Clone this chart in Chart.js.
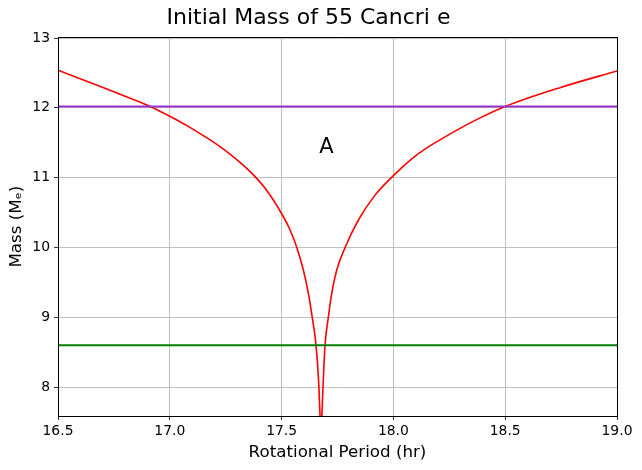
<!DOCTYPE html>
<html>
<head>
<meta charset="utf-8">
<script src="https://cdn.jsdelivr.net/npm/chart.js@4/dist/chart.umd.min.js"></script>
<style>
html,body{margin:0;padding:0;background:#fff;}
#wrap{width:642px;height:470px;position:relative;}
</style>
</head>
<body>
<div id="wrap"><canvas id="c" width="642" height="470"></canvas></div>
<script>
// Rotational period (hr) and initial mass
const periods = [16.50, 16.71, 16.92, 17.00, 17.09, 17.24, 17.314, 17.374, 17.433, 17.499, 17.538, 17.568, 17.597, 17.620, 17.636, 17.654, 17.666, 17.672, 17.676, 17.680, 17.686, 17.694, 17.709, 17.724, 17.746, 17.784, 17.843, 17.918, 18.00, 18.082, 18.141, 18.25, 18.39, 18.50, 18.745, 19.00];
const masses  = [12.54, 12.28, 12.01, 11.88, 11.72, 11.41, 11.22, 11.04, 10.82, 10.49, 10.25, 10.00, 9.68, 9.34, 9.02, 8.60, 8.06, 7.58, 7.20, 7.58, 8.06, 8.59, 9.00, 9.34, 9.67, 10.00, 10.39, 10.75, 11.03, 11.27, 11.41, 11.62, 11.86, 12.02, 12.29, 12.53];
const upperLimit = 12.02;   // purple horizontal line
const lowerLimit = 8.60;    // green horizontal line
const xRange = [16.5, 19.0];
const yRange = [7.585, 13.01];
const xTicks = [16.5, 17.0, 17.5, 18.0, 18.5, 19.0];
const yTicks = [8, 9, 10, 11, 12, 13];
const annotation = {x: 17.70, y: 11.43, text: 'A'};

const font = "'DejaVu Sans', 'Liberation Sans', sans-serif";

const curve = periods.map((p, i) => ({x: p, y: masses[i]}));

const boxPlugin = {
  id: 'box',
  afterDraw(chart) {
    const {ctx, chartArea: a, scales} = chart;
    ctx.save();
    ctx.strokeStyle = '#000';
    ctx.lineWidth = 1;
    ctx.strokeRect(Math.round(a.left) + 0.5, Math.round(a.top) + 0.5, Math.round(a.right - a.left), Math.round(a.bottom - a.top));
    ctx.fillStyle = '#000';
    ctx.font = '21px ' + font;
    ctx.textAlign = 'center';
    ctx.textBaseline = 'middle';
    ctx.fillText(annotation.text, scales.x.getPixelForValue(annotation.x), scales.y.getPixelForValue(annotation.y));
    ctx.restore();
  }
};

new Chart(document.getElementById('c'), {
  type: 'line',
  data: {
    datasets: [
      {data: [{x: xRange[0], y: upperLimit}, {x: xRange[1], y: upperLimit}], borderColor: '#9932CC', borderWidth: 2, pointRadius: 0, order: 1},
      {data: [{x: xRange[0], y: lowerLimit}, {x: xRange[1], y: lowerLimit}], borderColor: '#008000', borderWidth: 2, pointRadius: 0, order: 1},
      {data: curve, borderColor: '#ff0000', borderWidth: 1.6, pointRadius: 0, cubicInterpolationMode: 'monotone', order: 2}
    ]
  },
  options: {
    responsive: false,
    animation: false,
    devicePixelRatio: 1,
    layout: {padding: {left: 0, right: 25, top: 0, bottom: 0}},
    plugins: {
      legend: {display: false},
      tooltip: {enabled: false},
      title: {display: true, text: 'Initial Mass of 55 Cancri e', color: '#000', font: {family: font, size: 22, weight: 'normal', lineHeight: 1.2}, padding: {top: 5, bottom: 6}}
    },
    scales: {
      x: {
        type: 'linear', min: xRange[0], max: xRange[1],
        afterBuildTicks: s => { s.ticks = xTicks.map(v => ({value: v})); },
        afterFit: s => { s.height = 54; },
        ticks: {color: '#000', font: {family: font, size: 13.9}, padding: 3, maxRotation: 0, callback: v => Number(v).toFixed(1)},
        grid: {color: '#b0b0b0', lineWidth: 0.8, tickColor: '#000', tickLength: 4},
        border: {display: false},
        title: {display: true, text: 'Rotational Period (hr)', color: '#000', font: {family: font, size: 16.7, lineHeight: 1.2}, padding: {top: 0, bottom: 7}}
      },
      y: {
        type: 'linear', min: yRange[0], max: yRange[1],
        afterBuildTicks: s => { s.ticks = yTicks.map(v => ({value: v})); },
        afterFit: s => { s.width = 58; },
        ticks: {color: '#000', font: {family: font, size: 13.9}, padding: 4, callback: v => String(v)},
        grid: {color: '#b0b0b0', lineWidth: 0.8, tickColor: '#000', tickLength: 4},
        border: {display: false},
        title: {display: true, text: 'Mass (Mₑ)', color: '#000', font: {family: font, size: 16.7, lineHeight: 1.2}, padding: {top: 7, bottom: 0}}
      }
    }
  },
  plugins: [boxPlugin]
});
</script>
</body>
</html>
